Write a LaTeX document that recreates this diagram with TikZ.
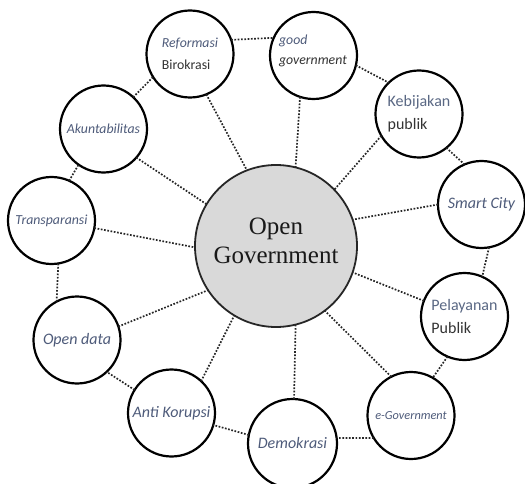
\documentclass[tikz,border=0pt]{standalone}
\usepackage{fontspec}
\setmainfont{Carlito}
\newfontfamily\serifT{Liberation Serif}
\definecolor{txtblue}{HTML}{4E5B7A}
\definecolor{txtslate}{HTML}{5A6884}
\definecolor{txtdark}{HTML}{333333}
\begin{document}
\begin{tikzpicture}[x=1pt,y=1pt,
  bub/.style={circle,draw=black,line width=2.2pt,fill=white,minimum size=87pt,inner sep=0pt,outer sep=0pt,align=left,text=txtblue},
  hub/.style={circle,draw=black!85,line width=1.8pt,fill=gray!30,minimum size=162pt,inner sep=0pt,outer sep=0pt},
  link/.style={line width=1.7pt,dash pattern=on 1.7pt off 1.6pt,draw=black!85},
  big/.style={font=\fontsize{16}{23}\selectfont},
  mid/.style={font=\fontsize{13.8}{22}\selectfont},
  sml/.style={font=\fontsize{12.3}{15}\selectfont}]
\useasboundingbox (0,0) rectangle (525,-484);

% hub
\node[hub] (og) at (276,-246) {};
\node[font=\serifT\fontsize{25}{29}\selectfont,align=center,text=black!90] (ogt) at (276,-241) {Open\\Government};

% bubbles
\node[bub,mid] (ref) at (190,-54) {{\itshape Reformasi}\\{\color{txtdark}Birokrasi}};
\node[bub] (good) at (313.5,-55.5) {};
\node[mid,align=left,text=txtblue,inner sep=0pt] (goodt) at (313,-51) {{\itshape good}\\[-2pt]{\itshape\color{txtdark}government}};
\node[bub,big] (keb) at (419,-114) {{\color{txtslate}Kebijakan}\\{\color{txtdark}publik}};
\node[bub,big] (smart) at (481.5,-204.5) {\itshape Smart City};
\node[bub,big] (pel) at (464.5,-316.5) {{\color{txtslate}Pelayanan}\\{\color{txtdark}Publik}};
\node[bub,sml] (egov) at (411,-415.5) {\itshape e-Government};
\node[bub,big,minimum size=89pt] (demo) at (292.5,-443.5) {\itshape Demokrasi};
\node[bub,big] (anti) at (171.5,-413) {\itshape Anti Korupsi};
\node[bub,big] (open) at (77,-340) {\itshape Open data};
\node[bub,mid] (trans) at (51.5,-220.5) {\itshape Transparansi};
\node[bub,mid] (akun) at (103.5,-129) {\itshape Akuntabilitas};

% spokes
\draw[link] (ref.-68.3) -- (og.111.3);
\draw[link] (good.-108.7) -- (og.76.5);
\draw[link] (keb.-150.3) -- (og.44);
\draw[link] (smart.180.7) -- (og.19);
\draw[link] (pel.159.7) -- (og.-19.8);
\draw[link] (egov.117.4) -- (og.-53.3);
\draw[link] (demo.88) -- (og.-76.7);
\draw[link] (anti.47.4) -- (og.-121.3);
\draw[link] (open.18) -- (og.-147.6);
\draw[link] (trans.-10.8) -- (og.181.4);
\draw[link] (akun.-41.8) -- (og.149);

% ring
\draw[link] (ref.19.8) -- (good.156.2);
\draw[link] (good.-13.7) -- (keb.134.7);
\draw[link] (keb.-51) -- (smart.113);
\draw[link] (smart.-80.4) -- (pel.66);
\draw[link] (pel.-113.7) -- (egov.60.8);
\draw[link] (egov.-149.7) -- (demo.7.5);
\draw[link] (demo.169.4) -- (anti.-16);
\draw[link] (anti.148.6) -- (open.-47.2);
\draw[link] (open.118.3) -- (trans.-81.8);
\draw[link] (trans.66.1) -- (akun.-125.8);
\draw[link] (akun.47) -- (ref.-148.5);
\end{tikzpicture}
\end{document}
